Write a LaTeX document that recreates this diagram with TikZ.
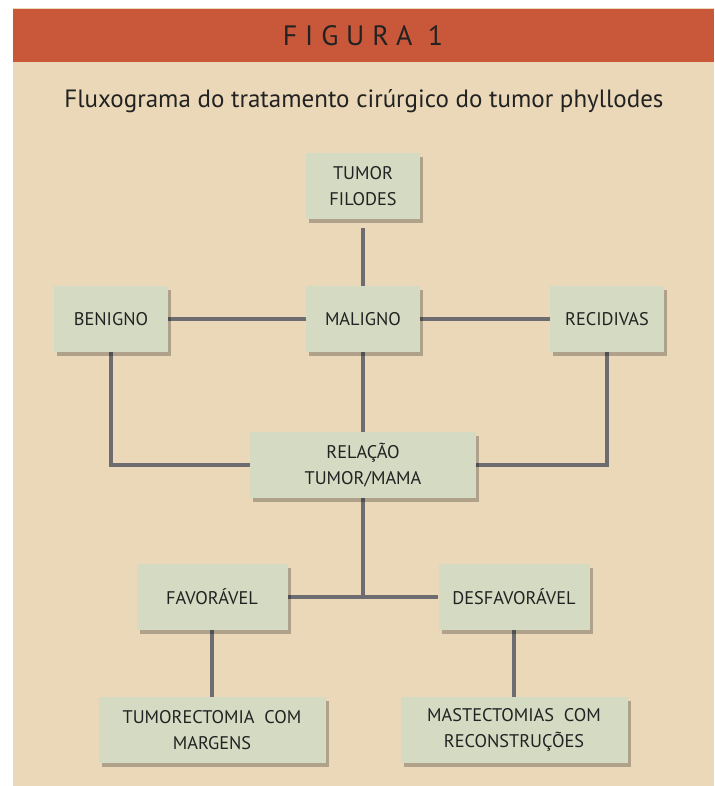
\documentclass[tikz,border=0pt]{standalone}
\usepackage{fontspec}
\setmainfont{PT Sans}
\usepackage{tikz}
\usetikzlibrary{positioning, shadows, backgrounds}

\definecolor{bandred}{HTML}{C9573A}
\definecolor{panelbeige}{HTML}{EAD8B9}
\definecolor{boxgreen}{HTML}{D5DAC3}
\definecolor{linkgray}{HTML}{6D6D71}
\definecolor{inkgray}{HTML}{222222}

\begin{document}
\begin{tikzpicture}[
        x=1pt, y=-1pt,
        box/.style={rectangle, fill=boxgreen, align=center, text=inkgray, font=\fontsize{18.3}{26}\selectfont, minimum height=66pt, inner sep=2pt,
            drop shadow={shadow xshift=3pt, shadow yshift=-4pt, fill=black, opacity=0.25}},
        link/.style={draw=linkgray, line width=3.2pt}
    ]

    % --- Hintergrund ---
    \useasboundingbox (0,0) rectangle (714,786);
    \begin{scope}[on background layer]
    \fill[white] (0,0) rectangle (714,786);
    \fill[panelbeige] (13,8) rectangle (714,786);
    \fill[bandred] (13,9) rectangle (714,62);
    \end{scope}

    % --- Kopf ---
    \node[text=inkgray, font=\fontsize{28}{30}\selectfont\addfontfeature{LetterSpace=28}] (figura) at (363,36) {FIGURA 1};
    \node[text=inkgray, font=\fontsize{25}{28}\selectfont] (titel) at (364,101) {Fluxograma do tratamento cirúrgico do tumor phyllodes};

    % --- Ebene 1 ---
    \node[box, minimum width=114pt] (filodes) at (363,186) {TUMOR\\FILODES};

    % --- Ebene 2 ---
    \node[box, minimum width=114pt] (benigno) at (111,319) {BENIGNO};
    \node[box, minimum width=114pt] (maligno) at (363,319) {MALIGNO};
    \node[box, minimum width=114pt] (recidivas) at (607,319) {RECIDIVAS};

    % --- Ebene 3 ---
    \node[box, minimum width=226pt] (relacao) at (363,465) {RELAÇÃO\\TUMOR/MAMA};

    % --- Ebene 4 ---
    \node[box, minimum width=151pt] (favoravel) at (212,597) {FAVORÁVEL};
    \node[box, minimum width=151pt] (desfavoravel) at (514,597) {DESFAVORÁVEL};

    % --- Ebene 5 ---
    \node[box, minimum width=227pt] (tumorectomia) at (212,730) {TUMORECTOMIA\ \ COM\\MARGENS};
    \node[box, minimum width=227pt] (mastectomia) at (514,730) {MASTECTOMIAS\ \ COM\\RECONSTRUÇÕES};

    % --- Verbindungen ---
    \begin{scope}[on background layer]
    \draw[link, shorten <=9pt] (filodes.south) -- (maligno.north);
    \draw[link] (benigno.east) -- (maligno.west);
    \draw[link] (maligno.east) -- (recidivas.west);
    \draw[link] (maligno.south) -- (relacao.north);
    \draw[link] (benigno.south) |- (relacao.west);
    \draw[link] (recidivas.south) |- (relacao.east);
    \draw[link] (relacao.south) -- (relacao.south |- favoravel.east);
    \draw[link] (favoravel.east) -- (desfavoravel.west);
    \draw[link] (favoravel.south) -- (tumorectomia.north);
    \draw[link] (desfavoravel.south) -- (mastectomia.north);
    \end{scope}

\end{tikzpicture}
\end{document}
